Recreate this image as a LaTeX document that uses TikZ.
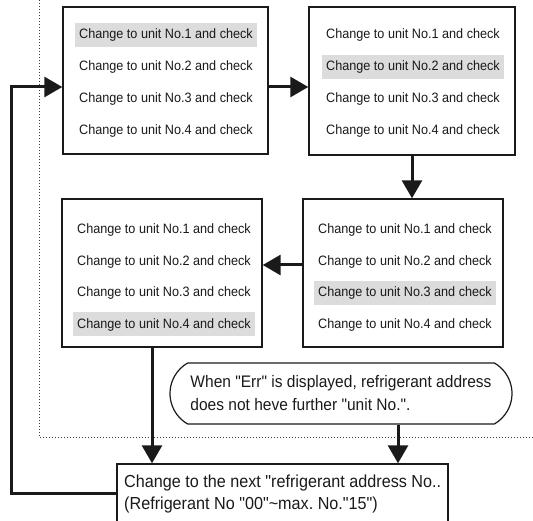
\documentclass[tikz,border=0pt]{standalone}
\usepackage{fontspec}
\setmainfont{Liberation Sans}[Ligatures=TeXOff, FakeStretch=0.93]
\usetikzlibrary{arrows.meta,fit,shapes.misc}
\definecolor{hlgray}{HTML}{DCDCDC}
\definecolor{ink}{HTML}{1A1A1A}
\begin{document}
\begin{tikzpicture}[x=1pt,y=-1pt,
  box/.style={draw=ink, line width=1.4pt, inner sep=0pt},
  row/.style={font=\fontsize{13.6}{15}\selectfont, text=ink, minimum width=182pt, minimum height=24pt, inner sep=0pt},
  hl/.style={row, fill=hlgray},
  arr/.style={draw=ink, line width=3pt, -{Triangle[length=18pt,width=20pt]}},
  notebox/.style={draw=ink, line width=1.2pt, rounded rectangle, rounded rectangle arc length=120, minimum width=342pt, minimum height=61pt, align=left, inner sep=0pt, font=\fontsize{16.7}{23}\selectfont, text=ink},
  guide/.style={draw=ink!85, dotted, line width=1pt}
]
\useasboundingbox (0,0) rectangle (533,521);

% guide dotted line
\draw[guide] (39,0) -- (39,437) -- (533,437);

% box 1
\node[box, fit={(63,7) (268,154)}] (b1) {};
\node[hl]  (b1r1) at (166,35)  {Change to unit No.1 and check};
\node[row] (b1r2) at (166,67)  {Change to unit No.2 and check};
\node[row] (b1r3) at (166,99)  {Change to unit No.3 and check};
\node[row] (b1r4) at (166,131) {Change to unit No.4 and check};

% box 2
\node[box, fit={(309,7) (515,155)}] (b2) {};
\node[row] (b2r1) at (413,35)  {Change to unit No.1 and check};
\node[hl]  (b2r2) at (413,67)  {Change to unit No.2 and check};
\node[row] (b2r3) at (413,99)  {Change to unit No.3 and check};
\node[row] (b2r4) at (413,131) {Change to unit No.4 and check};

% box 3
\node[box, fit={(303,199) (503,347)}] (b3) {};
\node[row] (b3r1) at (405,230)   {Change to unit No.1 and check};
\node[row] (b3r2) at (405,261.5) {Change to unit No.2 and check};
\node[hl]  (b3r3) at (405,293)   {Change to unit No.3 and check};
\node[row] (b3r4) at (405,324.5) {Change to unit No.4 and check};

% box 4
\node[box, fit={(62,199) (262,347)}] (b4) {};
\node[row] (b4r1) at (164,230)   {Change to unit No.1 and check};
\node[row] (b4r2) at (164,261.5) {Change to unit No.2 and check};
\node[row] (b4r3) at (164,293)   {Change to unit No.3 and check};
\node[hl]  (b4r4) at (164,324.5) {Change to unit No.4 and check};

% note
\node[notebox] (note) at (341,393.5)
  {When "Err" is displayed, refrigerant address\\does not heve further "unit No.".};

% box 5 (open at the bottom, runs off the page)
\node[box, fit={(117,464) (448,545)}] (b5) {};
\node[anchor=west, align=left, inner sep=0pt, text=ink, font=\fontsize{17.4}{22}\selectfont] (b5t) at (124,494)
  {Change to the next "refrigerant address No..\\(Refrigerant No "00"\textasciitilde max.\ No."15")};

% connectors
\draw[arr] (b1.east |- 0,87) -- (b2.west |- 0,87);
\draw[arr] (b2.south -| 412,0) -- (b3.north -| 412,0);
\draw[arr] (b3.west |- 0,265) -- (b4.east |- 0,265);
\draw[arr] (b4.south -| 152,0) -- (b5.north -| 152,0);
\draw[arr] (note.south -| 398,0) -- (b5.north -| 398,0);
\coordinate (fbl) at (11,493);
\coordinate (fbt) at (11,87);
\draw[arr] (b5.west |- 0,493) -- (fbl) -- (fbt) -- (b1.west |- 0,87);
\end{tikzpicture}
\end{document}
